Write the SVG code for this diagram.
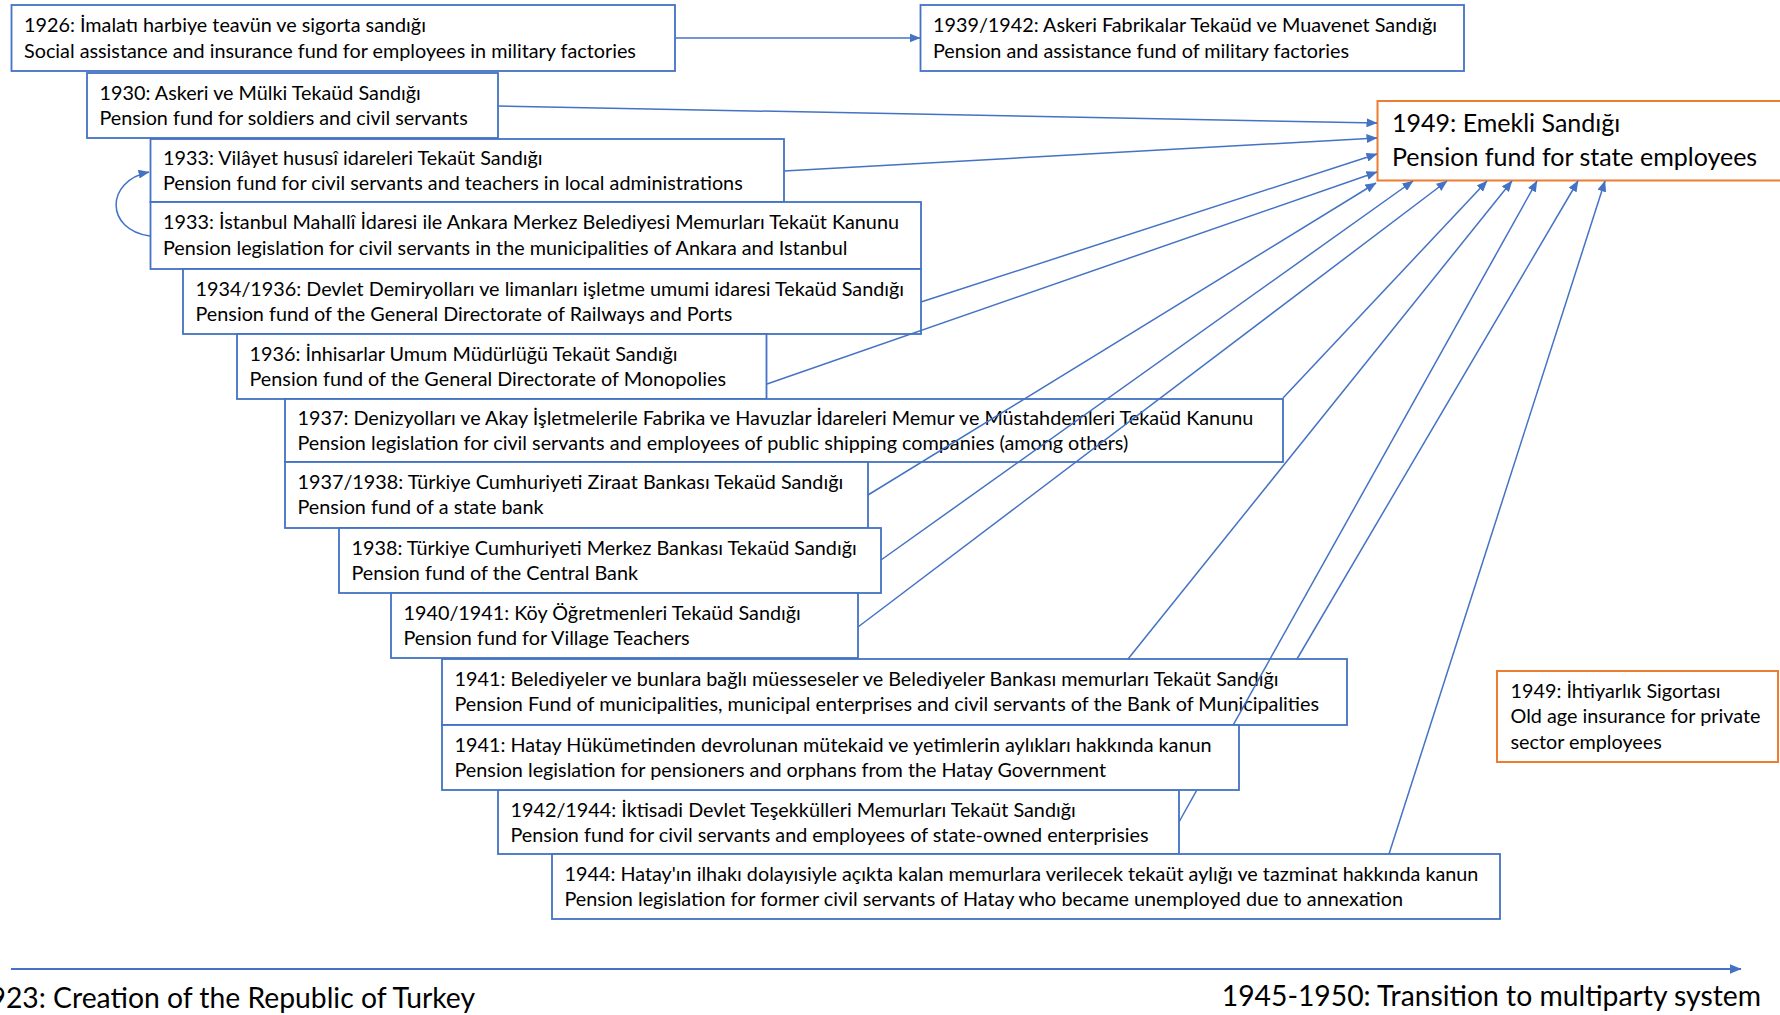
<svg xmlns="http://www.w3.org/2000/svg" width="1780" height="1015" viewBox="0 0 1780 1015">
  <defs>
    <style>
      .box { fill: #ffffff; stroke: #4472C4; stroke-width: 1.8; }
      .obox { fill: #ffffff; stroke: #ED7D31; stroke-width: 2; }
      .t { font-family: Lato, "Liberation Sans", sans-serif; font-size: 19.8px; fill: #000000; }
      .tb { font-family: Lato, "Liberation Sans", sans-serif; font-size: 25px; fill: #000000; }
      .tl { font-family: Lato, "Liberation Sans", sans-serif; font-size: 28.3px; fill: #000000; }
      .c { fill: none; stroke: #4472C4; stroke-width: 1.5; marker-end: url(#arr); }
    </style>
    <marker id="arr" markerUnits="userSpaceOnUse" markerWidth="11" markerHeight="9" viewBox="0 0 11 9" refX="10.5" refY="4.5" orient="auto">
      <path d="M0,0 L11,4.5 L0,9 Z" fill="#4472C4"/>
    </marker>
    <marker id="arrL" markerUnits="userSpaceOnUse" markerWidth="12" markerHeight="10" viewBox="0 0 12 10" refX="11.5" refY="5" orient="auto">
      <path d="M0,0 L12,5 L0,10 Z" fill="#4472C4"/>
    </marker>
  </defs>
  <rect x="0" y="0" width="1780" height="1015" fill="#ffffff"/>

  <g id="n1926">
    <rect class="box" x="11.5" y="5" width="663.5" height="66"/>
    <text class="t" x="24" y="32">1926: İmalatı harbiye teavün ve sigorta sandığı</text>
    <text class="t" x="24" y="58">Social assistance and insurance fund for employees in military factories</text>
  </g>
  <g id="n1939">
    <rect class="box" x="920.5" y="5" width="543.5" height="66"/>
    <text class="t" x="933" y="32">1939/1942: Askeri Fabrikalar Tekaüd ve Muavenet Sandığı</text>
    <text class="t" x="933" y="58">Pension and assistance fund of military factories</text>
  </g>
  <g id="n1930">
    <rect class="box" x="87" y="73" width="411" height="65"/>
    <text class="t" x="99.5" y="100">1930: Askeri ve Mülki Tekaüd Sandığı</text>
    <text class="t" x="99.5" y="125">Pension fund for soldiers and civil servants</text>
  </g>
  <g id="n1933a">
    <rect class="box" x="150.5" y="139" width="633.5" height="63"/>
    <text class="t" x="163" y="165">1933: Vilâyet hususî idareleri Tekaüt Sandığı</text>
    <text class="t" x="163" y="190">Pension fund for civil servants and teachers in local administrations</text>
  </g>
  <g id="n1933b">
    <rect class="box" x="150.5" y="202" width="770.5" height="67"/>
    <text class="t" x="163" y="229">1933: İstanbul Mahallî İdaresi ile Ankara Merkez Belediyesi Memurları Tekaüt Kanunu</text>
    <text class="t" x="163" y="255">Pension legislation for civil servants in the municipalities of Ankara and Istanbul</text>
  </g>
  <g id="n1934">
    <rect class="box" x="183" y="269" width="738" height="65"/>
    <text class="t" x="195.5" y="295.5">1934/1936: Devlet Demiryolları ve limanları işletme umumi idaresi Tekaüd Sandığı</text>
    <text class="t" x="195.5" y="320.5">Pension fund of the General Directorate of Railways and Ports</text>
  </g>
  <g id="n1936">
    <rect class="box" x="237" y="334" width="529.5" height="65"/>
    <text class="t" x="249.5" y="360.5">1936: İnhisarlar Umum Müdürlüğü Tekaüt Sandığı</text>
    <text class="t" x="249.5" y="385.5">Pension fund of the General Directorate of Monopolies</text>
  </g>
  <g id="n1937a">
    <rect class="box" x="285" y="399" width="998" height="63"/>
    <text class="t" x="297.5" y="425">1937: Denizyolları ve Akay İşletmelerile Fabrika ve Havuzlar İdareleri Memur ve Müstahdemleri Tekaüd Kanunu</text>
    <text class="t" x="297.5" y="450">Pension legislation for civil servants and employees of public shipping companies (among others)</text>
  </g>
  <g id="n1937b">
    <rect class="box" x="285" y="462" width="583" height="66"/>
    <text class="t" x="297.5" y="489">1937/1938: Türkiye Cumhuriyeti Ziraat Bankası Tekaüd Sandığı</text>
    <text class="t" x="297.5" y="514">Pension fund of a state bank</text>
  </g>
  <g id="n1938">
    <rect class="box" x="339" y="528" width="542" height="65"/>
    <text class="t" x="351.5" y="554.5">1938: Türkiye Cumhuriyeti Merkez Bankası Tekaüd Sandığı</text>
    <text class="t" x="351.5" y="579.5">Pension fund of the Central Bank</text>
  </g>
  <g id="n1940">
    <rect class="box" x="391" y="593" width="467" height="65"/>
    <text class="t" x="403.5" y="620">1940/1941: Köy Öğretmenleri Tekaüd Sandığı</text>
    <text class="t" x="403.5" y="645">Pension fund for Village Teachers</text>
  </g>
  <g id="n1941a">
    <rect class="box" x="442" y="659" width="905" height="66"/>
    <text class="t" x="454.5" y="686">1941: Belediyeler ve bunlara bağlı müesseseler ve Belediyeler Bankası memurları Tekaüt Sandığı</text>
    <text class="t" x="454.5" y="711">Pension Fund of municipalities, municipal enterprises and civil servants of the Bank of Municipalities</text>
  </g>
  <g id="n1942">
    <rect class="box" x="498" y="790" width="681" height="64"/>
    <text class="t" x="510.5" y="816.5">1942/1944: İktisadi Devlet Teşekkülleri Memurları Tekaüt Sandığı</text>
    <text class="t" x="510.5" y="841.5">Pension fund for civil servants and employees of state-owned enterprisies</text>
  </g>
  <g id="n1944">
    <rect class="box" x="552" y="854" width="948" height="65"/>
    <text class="t" x="564.5" y="880.5">1944: Hatay'ın ilhakı dolayısiyle açıkta kalan memurlara verilecek tekaüt aylığı ve tazminat hakkında kanun</text>
    <text class="t" x="564.5" y="905.5">Pension legislation for former civil servants of Hatay who became unemployed due to annexation</text>
  </g>
  <g id="n1949e">
    <rect class="obox" x="1377.5" y="101" width="406" height="79.5"/>
    <text class="tb" x="1392" y="132">1949: Emekli Sandığı</text>
    <text class="tb" x="1392" y="165.5">Pension fund for state employees</text>
  </g>
  <g id="n1949i">
    <rect class="obox" x="1497" y="671" width="281" height="91"/>
    <text class="t" x="1510.5" y="697.5">1949: İhtiyarlık Sigortası</text>
    <text class="t" x="1510.5" y="723">Old age insurance for private</text>
    <text class="t" x="1510.5" y="748.5">sector employees</text>
  </g>

  <g id="connectors">
    <line class="c" x1="675" y1="38" x2="920" y2="38"/>
    <line class="c" x1="498" y1="106" x2="1377" y2="123"/>
    <line class="c" x1="784" y1="171" x2="1377" y2="138"/>
    <path class="c" d="M150,236 C105,230 105,181 149,172"/>
    <line class="c" x1="921" y1="302" x2="1377" y2="154"/>
    <line class="c" x1="767" y1="384" x2="1377" y2="172"/>
    <line class="c" x1="1283" y1="398" x2="1487" y2="181"/>
    <line class="c" x1="868" y1="495" x2="1376" y2="183"/>
    <line class="c" x1="881" y1="560" x2="1413" y2="181"/>
    <line class="c" x1="858" y1="627" x2="1447" y2="181"/>
    <line class="c" x1="1128" y1="659" x2="1512" y2="181"/>
    <line class="c" x1="1297" y1="659" x2="1578" y2="181"/>
    <line class="c" x1="1179" y1="822" x2="1537" y2="181"/>
    <line class="c" x1="1389" y1="854" x2="1605" y2="181"/>
  </g>

  <g id="n1941b">
    <rect class="box" x="442" y="725" width="797" height="65"/>
    <text class="t" x="454.5" y="751.5">1941: Hatay Hükümetinden devrolunan mütekaid ve yetimlerin aylıkları hakkında kanun</text>
    <text class="t" x="454.5" y="776.5">Pension legislation for pensioners and orphans from the Hatay Government</text>
  </g>

  <g id="timeline">
    <line x1="11" y1="969" x2="1741" y2="969" stroke="#4472C4" stroke-width="2" marker-end="url(#arrL)"/>
    <text class="tl" x="475" y="1008" text-anchor="end">1923: Creation of the Republic of Turkey</text>
    <text class="tl" x="1761" y="1006" text-anchor="end">1945-1950: Transition to multiparty system</text>
  </g>
</svg>
